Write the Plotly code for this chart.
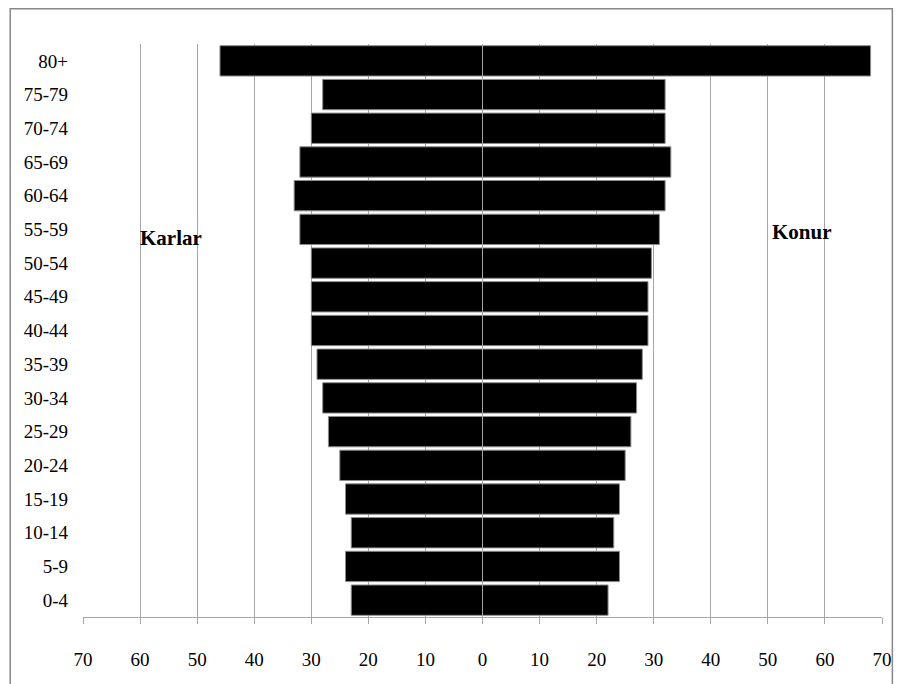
import plotly.graph_objects as go

age_groups = ["0-4", "5-9", "10-14", "15-19", "20-24", "25-29", "30-34", "35-39",
              "40-44", "45-49", "50-54", "55-59", "60-64", "65-69", "70-74", "75-79", "80+"]
karlar = [23, 24, 23, 24, 25, 27, 28, 29, 30, 30, 30, 32, 33, 32, 30, 28, 46]
konur = [22, 24, 23, 24, 25, 26, 27, 28, 29, 29, 29.6, 31, 32, 33, 32, 32, 68]
tick_vals = [-70, -60, -50, -40, -30, -20, -10, 0, 10, 20, 30, 40, 50, 60, 70]
tick_text = [str(abs(v)) for v in tick_vals]

FONT = "Liberation Serif"
GRID = "#a6a6a6"

fig = go.Figure()
fig.add_trace(go.Bar(y=age_groups, x=[-v for v in karlar], orientation="h", name="Karlar",
                     marker=dict(color="black", line=dict(color="#8c8c8c", width=1))))
fig.add_trace(go.Bar(y=age_groups, x=konur, orientation="h", name="Konur",
                     marker=dict(color="black", line=dict(color="#8c8c8c", width=1))))

L, T, R, B = 74.5, 36, 12.5, 67
PW = 896 - L - R
PH = 676 - T - B

fig.update_layout(
    width=896, height=676,
    margin=dict(l=L, r=R, t=T, b=B, pad=0),
    paper_bgcolor="white", plot_bgcolor="white",
    barmode="relative", bargap=0.1,
    showlegend=False,
    font=dict(family=FONT, size=19, color="black"),
    xaxis=dict(range=[-70, 70], tickvals=tick_vals, ticktext=tick_text,
               showgrid=True, gridcolor=GRID, gridwidth=1, zeroline=False,
               showline=True, linecolor=GRID, linewidth=1,
               ticks="outside", ticklen=6, tickcolor=GRID,
               ticklabelstandoff=19, tickfont=dict(family=FONT, size=19)),
    yaxis=dict(type="category", categoryorder="array", categoryarray=age_groups,
               showgrid=False, zeroline=False, showline=False, ticks="",
               ticklabelstandoff=14, tickfont=dict(family=FONT, size=19)),
    shapes=[
        dict(type="line", xref="x", yref="paper", x0=0, x1=0, y0=0, y1=1,
             line=dict(color=GRID, width=1), layer="above"),
        dict(type="rect", xref="paper", yref="paper",
             x0=(0.8 - L) / PW, x1=(894 - L) / PW, y0=-(B + 10) / PH, y1=(PH + T - 0.8) / PH,
             line=dict(color="#888888", width=1.5), fillcolor="rgba(0,0,0,0)", layer="below"),
    ],
    annotations=[
        dict(text="<b>Karlar</b>", x=-54.5, xref="x", y=0.685, yref="paper",
             showarrow=False, font=dict(family=FONT, size=21)),
        dict(text="<b>Konur</b>", x=56, xref="x", y=0.697, yref="paper",
             showarrow=False, font=dict(family=FONT, size=21)),
    ],
)

fig.write_html("out.html")
